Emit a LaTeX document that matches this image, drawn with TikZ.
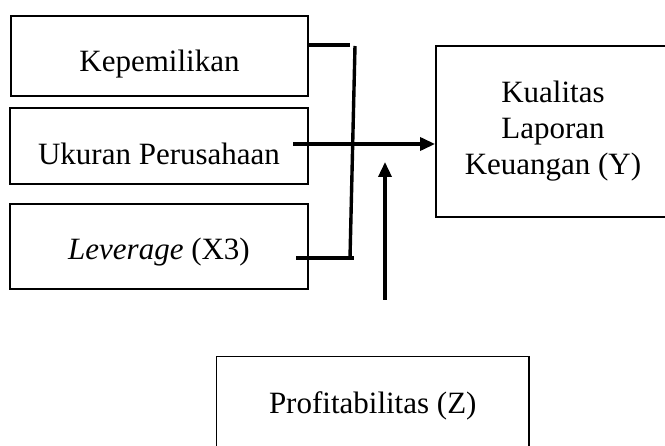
\documentclass[tikz,border=0pt]{standalone}
\usepackage{fontspec}
\setmainfont{Liberation Serif}
\usetikzlibrary{arrows.meta}
\newcommand{\lowtext}[2]{\raisebox{-#1}[0pt][0pt]{#2}}
\begin{document}
\begin{tikzpicture}[x=1pt,y=-1pt,
  box/.style={draw, line width=1.8pt, inner sep=0pt, align=center,
    font=\fontsize{31}{36}\selectfont},
  conn/.style={line width=3.4pt},
  arr/.style={conn, -{Triangle[length=15pt,width=13pt]}}]
\useasboundingbox (0,0) rectangle (665,446);
\node[box, minimum width=297pt, minimum height=80pt] (k) at (159.5,56) {\lowtext{16pt}{Kepemilikan}};
\node[box, minimum width=298pt, minimum height=76pt] (u) at (159,146) {\lowtext{19pt}{Ukuran Perusahaan}};
\node[box, minimum width=298pt, minimum height=85pt] (l) at (159,246.5) {\lowtext{13.5pt}{\textit{Leverage} (X3)}};
\node[box, minimum width=234pt, minimum height=171pt] (y) at (553,131.5) {Kualitas\\Laporan\\Keuangan (Y)};
\node[box, minimum width=312.5pt, minimum height=103pt] (p) at (372.75,408) {\lowtext{6pt}{Profitabilitas (Z)}};
% bracket
\coordinate (t1) at (350,45);
\coordinate (v1) at (355,46);
\coordinate (v2) at (350,258);
\coordinate (b1) at (296,258);
\coordinate (b2) at (354,258);
\draw[conn] (t1 -| k.east) -- (t1);
\draw[conn] (v1) -- (v2);
\draw[conn] (b1) -- (b2);
% main arrow
\coordinate (m1) at (293,144);
\draw[arr] (m1) -- (m1 -| y.west);
% moderator arrow
\coordinate (zs) at (385,300);
\coordinate (zt) at (385,162);
\draw[arr] (zs) -- (zt);
\end{tikzpicture}
\end{document}
